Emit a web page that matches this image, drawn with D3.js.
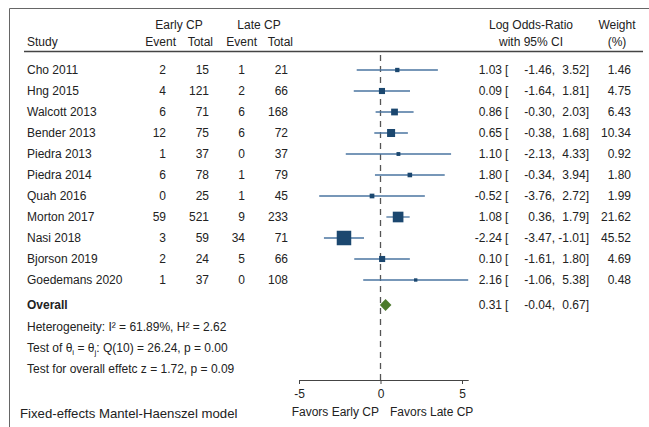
<!DOCTYPE html>
<html>
<head>
<meta charset="utf-8">
<script src="https://cdnjs.cloudflare.com/ajax/libs/d3/7.8.5/d3.min.js"></script>
<style>
  body { margin: 0; background: #fff; }
  svg { font-family: 'Liberation Sans', Arial, sans-serif; font-size: 12px; fill: #222; }
  text { fill: #222; }
</style>
</head>
<body>
<script>
// study data
var studies = ["Cho 2011", "Hng 2015", "Walcott 2013", "Bender 2013", "Piedra 2013", "Piedra 2014",
               "Quah 2016", "Morton 2017", "Nasi 2018", "Bjorson 2019", "Goedemans 2020"];
var earlyEvent = [2, 4, 6, 12, 1, 6, 0, 59, 3, 2, 1];
var earlyTotal = [15, 121, 71, 75, 37, 78, 25, 521, 59, 24, 37];
var lateEvent  = [1, 2, 6, 6, 0, 1, 1, 9, 34, 5, 0];
var lateTotal  = [21, 66, 168, 72, 37, 79, 45, 233, 71, 66, 108];
var logOR = [1.03, 0.09, 0.86, 0.65, 1.10, 1.80, -0.52, 1.08, -2.24, 0.10, 2.16];
var ciLow = [-1.46, -1.64, -0.30, -0.38, -2.13, -0.34, -3.76, 0.36, -3.47, -1.61, -1.06];
var ciHigh = [3.52, 1.81, 2.03, 1.68, 4.33, 3.94, 2.72, 1.79, -1.01, 1.80, 5.38];
var weight = [1.46, 4.75, 6.43, 10.34, 0.92, 1.80, 1.99, 21.62, 45.52, 4.69, 0.48];
var overall = [0.31, -0.04, 0.67];
var axisTicks = [-5, 0, 5];

var W = 649, H = 427;
var svg = d3.select("body").append("svg").attr("width", W).attr("height", H);

// plain hyphen for negatives, like the original
var loc = d3.formatLocale({decimal: ".", thousands: ",", grouping: [3], currency: ["$", ""], minus: "-"});
var fmt = loc.format(".2f");
var rows = studies.map(function(s, i) {
  return {name: s, ee: earlyEvent[i], et: earlyTotal[i], le: lateEvent[i], lt: lateTotal[i],
          est: logOR[i], lo: ciLow[i], hi: ciHigh[i], w: weight[i]};
});

// frame
svg.append("path").attr("d", "M9.5,427V8.5H649").attr("fill", "none")
  .attr("stroke", "#666").attr("stroke-width", 1);

// header
var hdr = svg.append("g");
hdr.append("text").attr("x", 179).attr("y", 29).attr("text-anchor", "middle").text("Early CP");
hdr.append("text").attr("x", 259).attr("y", 29).attr("text-anchor", "middle").text("Late CP");
hdr.append("text").attr("x", 27).attr("y", 46).text("Study");
[[176, "Event"], [213, "Total"], [257, "Event"], [293, "Total"]].forEach(function(h) {
  hdr.append("text").attr("x", h[0]).attr("y", 46).attr("text-anchor", "end").text(h[1]);
});
hdr.append("text").attr("x", 531).attr("y", 29).attr("text-anchor", "middle").text("Log Odds-Ratio");
hdr.append("text").attr("x", 531).attr("y", 46).attr("text-anchor", "middle").text("with 95% CI");
hdr.append("text").attr("x", 617).attr("y", 29).attr("text-anchor", "middle").text("Weight");
hdr.append("text").attr("x", 617).attr("y", 46).attr("text-anchor", "middle").text("(%)");
svg.append("line").attr("x1", 24).attr("x2", 643).attr("y1", 51.5).attr("y2", 51.5)
  .attr("stroke", "#444").attr("stroke-width", 1.3);

// scales
var x = d3.scaleLinear().domain([-5, d3.max(ciHigh)]).range([299, 299 + (d3.max(ciHigh) + 5) * 16.3]);
var y = d3.scaleLinear().domain([0, 1]).range([70, 91]);
var side = d3.scaleSqrt().domain([0, d3.max(weight)]).range([2.1, 14.5]);
var yOverall = 305;

// zero line
svg.append("line").attr("x1", x(0)).attr("x2", x(0)).attr("y1", 55).attr("y2", 380)
  .attr("stroke", "#555").attr("stroke-width", 1.3).attr("stroke-dasharray", "6,5");

// axis
var axis = svg.append("g").attr("transform", "translate(0,380)")
  .call(d3.axisBottom(x).tickValues(axisTicks).tickSize(4).tickSizeOuter(0).tickPadding(5).tickFormat(loc.format("d")));
axis.select(".domain").attr("stroke", "#444");
axis.selectAll(".tick line").attr("stroke", "#444");
axis.selectAll(".tick text").attr("fill", "#222").style("font-size", "12px")
  .style("font-family", "'Liberation Sans', Arial, sans-serif");

svg.append("text").attr("x", 379).attr("y", 416).attr("text-anchor", "end").text("Favors Early CP");
svg.append("text").attr("x", 390).attr("y", 416).text("Favors Late CP");
svg.append("text").attr("x", 20).attr("y", 418).style("font-size", "13.2px").text("Fixed-effects Mantel-Haenszel model");

// rows
var g = svg.selectAll("g.row").data(rows).enter().append("g").attr("class", "row")
  .attr("transform", function(d, i) { return "translate(0," + y(i) + ")"; });

g.append("text").attr("x", 27).attr("y", 4.3).text(function(d) { return d.name; });
g.append("text").attr("x", 166).attr("y", 4.3).attr("text-anchor", "end").text(function(d) { return d.ee; });
g.append("text").attr("x", 209).attr("y", 4.3).attr("text-anchor", "end").text(function(d) { return d.et; });
g.append("text").attr("x", 245).attr("y", 4.3).attr("text-anchor", "end").text(function(d) { return d.le; });
g.append("text").attr("x", 288).attr("y", 4.3).attr("text-anchor", "end").text(function(d) { return d.lt; });

g.append("line").attr("x1", function(d) { return x(d.lo); }).attr("x2", function(d) { return x(d.hi); })
  .attr("y1", 0).attr("y2", 0).attr("stroke", "#4a74a0").attr("stroke-width", 1.3);
g.append("rect")
  .attr("x", function(d) { return x(d.est) - side(d.w) / 2; })
  .attr("y", function(d) { return -side(d.w) / 2; })
  .attr("width", function(d) { return side(d.w); })
  .attr("height", function(d) { return side(d.w); })
  .attr("fill", "#1b476f");

function ciText(sel, est, lo, hi) {
  sel.append("text").attr("x", 502).attr("y", 4.3).attr("text-anchor", "end").text(fmt(est));
  sel.append("text").attr("x", 505).attr("y", 4.3).text("[");
  sel.append("text").attr("x", 555).attr("y", 4.3).attr("text-anchor", "end").text(fmt(lo) + ",");
  sel.append("text").attr("x", 589).attr("y", 4.3).attr("text-anchor", "end").text(fmt(hi) + "]");
}
g.each(function(d) { ciText(d3.select(this), d.est, d.lo, d.hi); });
g.append("text").attr("x", 631).attr("y", 4.3).attr("text-anchor", "end").text(function(d) { return fmt(d.w); });

// overall
var ov = svg.append("g").attr("transform", "translate(0," + yOverall + ")");
ov.append("text").attr("x", 27).attr("y", 4.3).attr("font-weight", "bold").text("Overall");
ov.append("path")
  .attr("d", "M" + x(overall[1]) + ",0L" + x(overall[0]) + ",-6L" + x(overall[2]) + ",0L" + x(overall[0]) + ",6Z")
  .attr("fill", "#4c7a2c");
ciText(ov, overall[0], overall[1], overall[2]);

// stats text
svg.append("text").attr("x", 27).attr("y", 331).text("Heterogeneity: I\u00B2 = 61.89%, H\u00B2 = 2.62");
var t2 = svg.append("text").attr("x", 27).attr("y", 352);
t2.append("tspan").text("Test of \u03B8");
t2.append("tspan").attr("font-size", "8px").attr("dy", 3).text("i");
t2.append("tspan").attr("dy", -3).text(" = \u03B8");
t2.append("tspan").attr("font-size", "8px").attr("dy", 3).text("j");
t2.append("tspan").attr("dy", -3).text(": Q(10) = 26.24, p = 0.00");
svg.append("text").attr("x", 27).attr("y", 373).text("Test for overall effetc z = 1.72, p = 0.09");
</script>
</body>
</html>
